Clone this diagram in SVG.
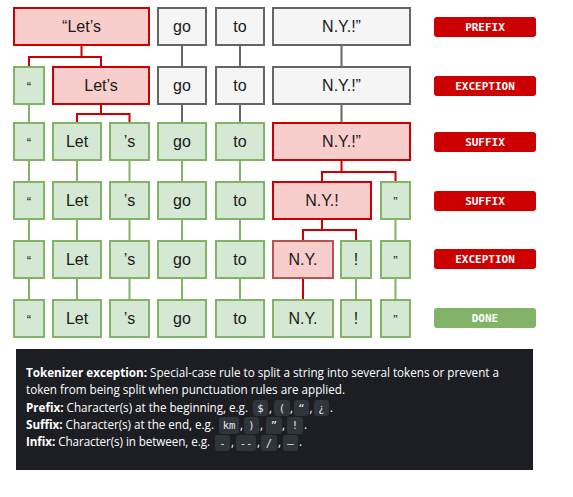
<svg xmlns="http://www.w3.org/2000/svg" width="573" height="497" viewBox="0 0 573 497">
<style>
  .red { fill: #f8cecc; stroke: #cc0000; stroke-width: 2; }
  .red2 { fill: #f8cecc; stroke: #b85450; stroke-width: 2; }
  .gray { fill: #f5f5f5; stroke: #666666; stroke-width: 2; }
  .green { fill: #d5e8d4; stroke: #82b366; stroke-width: 2; }
  .t { font-family: "Liberation Sans", Arial, sans-serif; font-size: 16px; fill: #1a1a1a; text-anchor: middle; }
  .q { font-size: 13px; }
  .badge { font-family: "DejaVu Sans Mono", monospace; font-weight: bold; font-size: 11px; fill: #ffffff; text-anchor: middle; }
  .lr { fill: none; stroke: #cc0000; stroke-width: 2; }
  .lg { fill: none; stroke: #82b366; stroke-width: 2; }
  .lk { fill: none; stroke: #666666; stroke-width: 2; }
  .d { font-family: "Open Sans", "Noto Sans", sans-serif; font-size: 11.7px; fill: #ffffff; }
  .db { font-weight: bold; }
  .cb { fill: #30343b; }
  .c { font-family: "DejaVu Sans Mono", monospace; font-size: 10.5px; fill: #e8e8e8; text-anchor: middle; }
</style>

<g id="connectors">
  <path class="lr" d="M81.5,45 V57 M29,67 V57 H101 V67"/>
  <path class="lr" d="M101,104 V114 M77,123 V114 H129.5 V123"/>
  <path class="lr" d="M341.5,160 V172 M322,182 V172 H395.5 V182"/>
  <path class="lr" d="M322,220 V230 M303,241 V230 H356 V241"/>
  <path class="lr" d="M303,279 V300"/>
  <path class="lk" d="M182,45 V67 M182,104 V123 M240,45 V67 M240,104 V123 M341.5,45 V67 M341.5,104 V123"/>
  <path class="lg" d="M29,104 V123 M29,160 V182 M29,220 V241 M29,279 V300"/>
  <path class="lg" d="M77,160 V182 M77,220 V241 M77,279 V300"/>
  <path class="lg" d="M129.5,160 V182 M129.5,220 V241 M129.5,279 V300"/>
  <path class="lg" d="M182,160 V182 M182,220 V241 M182,279 V300"/>
  <path class="lg" d="M240,160 V182 M240,220 V241 M240,279 V300"/>
  <path class="lg" d="M395.5,220 V241 M395.5,279 V300"/>
  <path class="lg" d="M356,279 V300"/>
</g>

<g id="r1-lets"><rect class="red" x="14" y="8" width="135" height="37"/><text class="t" x="81.5" y="32">“Let’s</text></g>
<g id="r1-go"><rect class="gray" x="158" y="8" width="48" height="37"/><text class="t" x="182" y="32">go</text></g>
<g id="r1-to"><rect class="gray" x="216" y="8" width="48" height="37"/><text class="t" x="240" y="32">to</text></g>
<g id="r1-ny"><rect class="gray" x="273" y="8" width="137" height="37"/><text class="t" x="341.5" y="32">N.Y.!”</text></g>
<g id="b1"><rect x="434" y="17" width="102" height="20" rx="3" fill="#cc0000"/><text class="badge" x="485" y="31">PREFIX</text></g>

<g id="r2-q"><rect class="green" x="14" y="67" width="30" height="37"/><text class="t q" x="29" y="91">“</text></g>
<g id="r2-lets"><rect class="red" x="53" y="67" width="96" height="37"/><text class="t" x="101" y="91">Let’s</text></g>
<g id="r2-go"><rect class="gray" x="158" y="67" width="48" height="37"/><text class="t" x="182" y="91">go</text></g>
<g id="r2-to"><rect class="gray" x="216" y="67" width="48" height="37"/><text class="t" x="240" y="91">to</text></g>
<g id="r2-ny"><rect class="gray" x="273" y="67" width="137" height="37"/><text class="t" x="341.5" y="91">N.Y.!”</text></g>
<g id="b2"><rect x="434" y="76" width="102" height="20" rx="3" fill="#cc0000"/><text class="badge" x="485" y="90">EXCEPTION</text></g>

<g id="r3-q"><rect class="green" x="14" y="123" width="30" height="37"/><text class="t q" x="29" y="147">“</text></g>
<g id="r3-let"><rect class="green" x="53" y="123" width="48" height="37"/><text class="t" x="77" y="147">Let</text></g>
<g id="r3-s"><rect class="green" x="110" y="123" width="39" height="37"/><text class="t" x="129.5" y="147">’s</text></g>
<g id="r3-go"><rect class="green" x="158" y="123" width="48" height="37"/><text class="t" x="182" y="147">go</text></g>
<g id="r3-to"><rect class="green" x="216" y="123" width="48" height="37"/><text class="t" x="240" y="147">to</text></g>
<g id="r3-ny"><rect class="red" x="273" y="123" width="137" height="37"/><text class="t" x="341.5" y="147">N.Y.!”</text></g>
<g id="b3"><rect x="434" y="132" width="102" height="20" rx="3" fill="#cc0000"/><text class="badge" x="485" y="146">SUFFIX</text></g>

<g id="r4-q"><rect class="green" x="14" y="182" width="30" height="37"/><text class="t q" x="29" y="206">“</text></g>
<g id="r4-let"><rect class="green" x="53" y="182" width="48" height="37"/><text class="t" x="77" y="206">Let</text></g>
<g id="r4-s"><rect class="green" x="110" y="182" width="39" height="37"/><text class="t" x="129.5" y="206">’s</text></g>
<g id="r4-go"><rect class="green" x="158" y="182" width="48" height="37"/><text class="t" x="182" y="206">go</text></g>
<g id="r4-to"><rect class="green" x="216" y="182" width="48" height="37"/><text class="t" x="240" y="206">to</text></g>
<g id="r4-ny"><rect class="red" x="273" y="182" width="98" height="37"/><text class="t" x="322" y="206">N.Y.!</text></g>
<g id="r4-rq"><rect class="green" x="381" y="182" width="29" height="37"/><text class="t q" x="395.5" y="206">”</text></g>
<g id="b4"><rect x="434" y="191" width="102" height="20" rx="3" fill="#cc0000"/><text class="badge" x="485" y="205">SUFFIX</text></g>

<g id="r5-q"><rect class="green" x="14" y="241" width="30" height="37"/><text class="t q" x="29" y="265">“</text></g>
<g id="r5-let"><rect class="green" x="53" y="241" width="48" height="37"/><text class="t" x="77" y="265">Let</text></g>
<g id="r5-s"><rect class="green" x="110" y="241" width="39" height="37"/><text class="t" x="129.5" y="265">’s</text></g>
<g id="r5-go"><rect class="green" x="158" y="241" width="48" height="37"/><text class="t" x="182" y="265">go</text></g>
<g id="r5-to"><rect class="green" x="216" y="241" width="48" height="37"/><text class="t" x="240" y="265">to</text></g>
<g id="r5-ny"><rect class="red2" x="273" y="241" width="60" height="37"/><text class="t" x="303" y="265">N.Y.</text></g>
<g id="r5-ex"><rect class="green" x="341" y="241" width="30" height="37"/><text class="t" x="356" y="265">!</text></g>
<g id="r5-rq"><rect class="green" x="381" y="241" width="29" height="37"/><text class="t q" x="395.5" y="265">”</text></g>
<g id="b5"><rect x="434" y="249" width="102" height="20" rx="3" fill="#cc0000"/><text class="badge" x="485" y="263">EXCEPTION</text></g>

<g id="r6-q"><rect class="green" x="14" y="300" width="30" height="37"/><text class="t q" x="29" y="324">“</text></g>
<g id="r6-let"><rect class="green" x="53" y="300" width="48" height="37"/><text class="t" x="77" y="324">Let</text></g>
<g id="r6-s"><rect class="green" x="110" y="300" width="39" height="37"/><text class="t" x="129.5" y="324">’s</text></g>
<g id="r6-go"><rect class="green" x="158" y="300" width="48" height="37"/><text class="t" x="182" y="324">go</text></g>
<g id="r6-to"><rect class="green" x="216" y="300" width="48" height="37"/><text class="t" x="240" y="324">to</text></g>
<g id="r6-ny"><rect class="green" x="273" y="300" width="60" height="37"/><text class="t" x="303" y="324">N.Y.</text></g>
<g id="r6-ex"><rect class="green" x="341" y="300" width="30" height="37"/><text class="t" x="356" y="324">!</text></g>
<g id="r6-rq"><rect class="green" x="381" y="300" width="29" height="37"/><text class="t q" x="395.5" y="324">”</text></g>
<g id="b6"><rect x="434" y="308" width="102" height="20" rx="3" fill="#82b366"/><text class="badge" x="485" y="322">DONE</text></g>

<g id="legend">
  <rect x="16" y="349" width="517" height="121" fill="#1c1e23"/>
  <text class="d" x="26" y="377" textLength="473" lengthAdjust="spacing"><tspan class="db">Tokenizer exception:</tspan> Special-case rule to split a string into several tokens or prevent a</text>
  <text class="d" x="26" y="394" textLength="319" lengthAdjust="spacing">token from being split when punctuation rules are applied.</text>
  <text class="d" x="26" y="412" textLength="222" lengthAdjust="spacing"><tspan class="db">Prefix:</tspan> Character(s) at the beginning, e.g.</text>
  <text class="d" x="26" y="429" textLength="188" lengthAdjust="spacing"><tspan class="db">Suffix:</tspan> Character(s) at the end, e.g.</text>
  <text class="d" x="26" y="446" textLength="184" lengthAdjust="spacing"><tspan class="db">Infix:</tspan> Character(s) in between, e.g.</text>

  <rect class="cb" x="253" y="400" width="15" height="16" rx="3"/><text class="c" x="260.5" y="412">$</text>
  <text class="d" x="269" y="412">,</text>
  <rect class="cb" x="274" y="400" width="16" height="16" rx="3"/><text class="c" x="282" y="412">(</text>
  <text class="d" x="290" y="412">,</text>
  <rect class="cb" x="294" y="400" width="15" height="16" rx="3"/><text class="c" x="301.5" y="412">“</text>
  <text class="d" x="309.5" y="412">,</text>
  <rect class="cb" x="314" y="400" width="15" height="16" rx="3"/><text class="c" x="321.5" y="412">¿</text>
  <text class="d" x="330" y="412">.</text>

  <rect class="cb" x="219" y="417" width="20" height="17" rx="3"/><text class="c" x="229" y="429">km</text>
  <text class="d" x="240" y="429">,</text>
  <rect class="cb" x="244" y="417" width="15" height="17" rx="3"/><text class="c" x="251.5" y="429">)</text>
  <text class="d" x="260" y="429">,</text>
  <rect class="cb" x="266" y="417" width="16" height="17" rx="3"/><text class="c" x="274" y="429">”</text>
  <text class="d" x="282" y="429">,</text>
  <rect class="cb" x="287" y="417" width="16" height="17" rx="3"/><text class="c" x="295" y="429">!</text>
  <text class="d" x="304" y="429">.</text>

  <rect class="cb" x="215" y="435" width="15" height="16" rx="3"/><text class="c" x="222.5" y="447">-</text>
  <text class="d" x="231" y="446">,</text>
  <rect class="cb" x="236" y="435" width="20" height="16" rx="3"/><text class="c" x="246" y="447">--</text>
  <text class="d" x="257" y="446">,</text>
  <rect class="cb" x="261" y="435" width="16" height="16" rx="3"/><text class="c" x="269" y="447">/</text>
  <text class="d" x="278" y="446">,</text>
  <rect class="cb" x="283" y="435" width="15" height="16" rx="3"/><text class="c" x="290.5" y="447">–</text>
  <text class="d" x="299" y="446">.</text>
</g>
</svg>
